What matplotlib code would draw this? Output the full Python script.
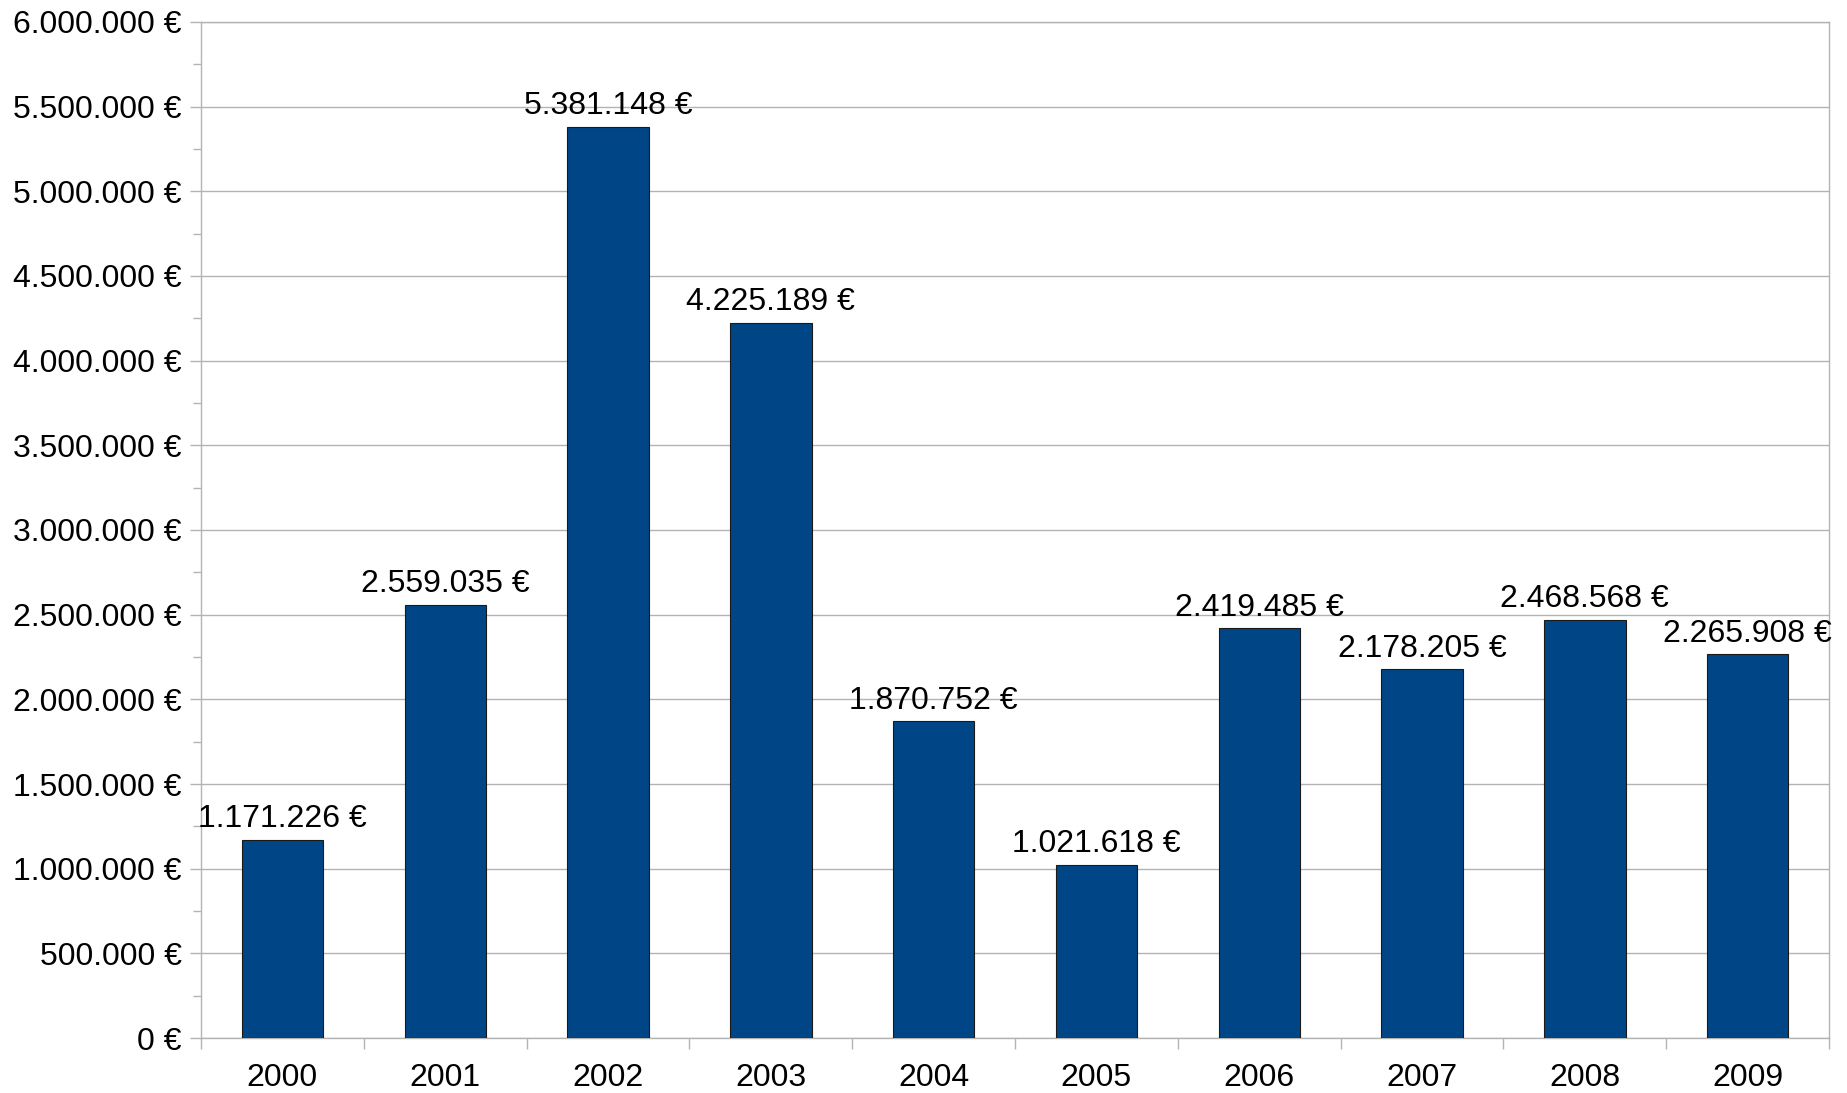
import numpy as np
import matplotlib.pyplot as plt
from matplotlib.ticker import FuncFormatter, MultipleLocator

# DATA
years = ['2000', '2001', '2002', '2003', '2004', '2005', '2006', '2007', '2008', '2009']
amounts = [1171226, 2559035, 5381148, 4225189, 1870752, 1021618,
           2419485, 2178205, 2468568, 2265908]


def euro(v):
    return '{:,.0f} €'.format(v).replace(',', '.')


plt.rcParams['font.family'] = ['Liberation Sans', 'DejaVu Sans']

fig = plt.figure(figsize=(18.47, 10.93), dpi=100)
ax = fig.add_axes([201 / 1847, 1 - 1038 / 1093, (1829 - 201) / 1847, (1038 - 22) / 1093])

x = np.arange(len(years))
bars = ax.bar(x, amounts, width=0.5, color='#004586', edgecolor='#1a1a1a',
              linewidth=0.8, zorder=3)
ax.bar_label(bars, labels=[euro(v) for v in amounts], padding=4, fontsize=23)

ax.set_xlim(-0.5, len(years) - 0.5)
ax.set_ylim(0, 6000000)

# y axis
ax.yaxis.set_major_locator(MultipleLocator(500000))
ax.yaxis.set_minor_locator(MultipleLocator(250000))
ax.yaxis.set_major_formatter(FuncFormatter(lambda v, p: euro(v)))
ax.tick_params(axis='y', which='major', length=8, width=1, color='#b3b3b3',
               labelsize=23, pad=6)
ax.tick_params(axis='y', which='minor', length=6, width=1, color='#b3b3b3')
ax.grid(axis='y', which='major', color='#b3b3b3', linewidth=1)
ax.set_axisbelow(True)

# x axis: labels centred, ticks on category boundaries
ax.set_xticks(x)
ax.set_xticklabels(years)
ax.set_xticks(np.arange(len(years) + 1) - 0.5, minor=True)
ax.tick_params(axis='x', which='major', length=0, labelsize=23, pad=18)
ax.tick_params(axis='x', which='minor', length=8, width=1, color='#b3b3b3')

for s in ax.spines.values():
    s.set_color('#b3b3b3')
    s.set_linewidth(1)

fig.savefig('out.png', dpi=100)
